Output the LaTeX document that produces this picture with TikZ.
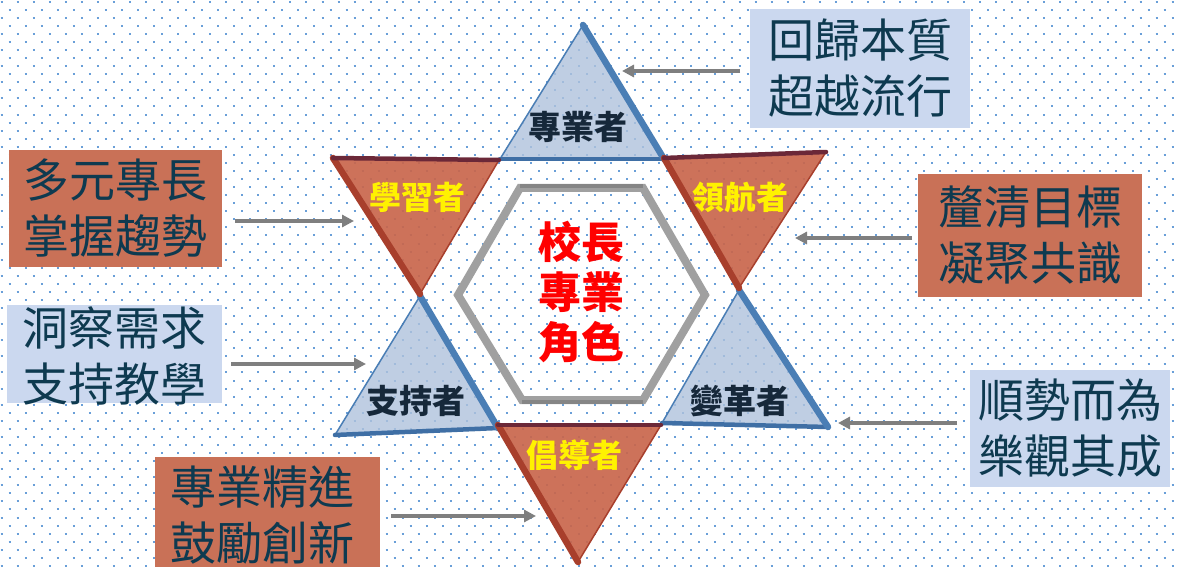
\documentclass[tikz,border=0pt]{standalone}
\usepackage{fontspec}
\newfontfamily\cjk{Noto Sans CJK TC}
\usetikzlibrary{arrows.meta}
\definecolor{dotc}{HTML}{6A9FD8}
\definecolor{boxor}{HTML}{C97157}
\definecolor{boxbl}{HTML}{CBD8EF}
\definecolor{txtc}{HTML}{0E3A50}
\definecolor{trib}{HTML}{AFC2DC}
\definecolor{trie}{HTML}{4A7EB5}
\definecolor{trie2}{HTML}{3F6FA5}
\definecolor{trio}{HTML}{C9664C}
\definecolor{trioe}{HTML}{A83F2C}
\definecolor{triot}{HTML}{6B2838}
\definecolor{hexc}{HTML}{A0A0A0}
\definecolor{hexd}{HTML}{858585}
\definecolor{arrc}{HTML}{7F7F7F}
\definecolor{navy}{HTML}{16283A}
\begin{document}
\begin{tikzpicture}[x=1pt,y=-1pt,
  obox/.style={fill=boxor, inner sep=0pt, text=txtc, align=center, font=\cjk\fontsize{46}{56}\selectfont},
  bbox/.style={fill=boxbl, inner sep=0pt, text=txtc, align=center, font=\cjk\fontsize{46}{56}\selectfont},
  arr/.style={draw=arrc, line width=4pt, -{Triangle[length=12pt,width=12pt]}},
  blab/.style={text=navy, font=\cjk\bfseries\fontsize{33}{33}\selectfont},
  ylab/.style={text=yellow, font=\cjk\bfseries\fontsize{32}{32}\selectfont},
  bfill/.style={fill=trib, fill opacity=0.8},
  ofill/.style={fill=trio, fill opacity=0.92},
  thin/.style={line width=1.5pt},
  thick/.style={line width=6.5pt, line cap=round},
  midw/.style={line width=4.5pt, line cap=round}]
\useasboundingbox (0,0) rectangle (1179,567);
\fill[white] (0,0) rectangle (1179,567);
% dotted background
\foreach \j in {0,...,70} {
  \pgfmathsetmacro\yy{1.7+8.06*\j}
  \pgfmathsetmacro\xx{mod(\j,2)*8.02+0.7}
  \draw[dotc, line width=2pt, dash pattern=on 2pt off 14.04pt] (\xx,\yy) -- (1179,\yy);
}
% triangle vertices
\coordinate (t1a) at (583,25);  \coordinate (t1b) at (500,159); \coordinate (t1c) at (664,159);
\coordinate (t2a) at (333,158); \coordinate (t2b) at (499,160); \coordinate (t2c) at (420,294);
\coordinate (t3a) at (664,158); \coordinate (t3b) at (826,152); \coordinate (t3c) at (739,288);
\coordinate (t4a) at (420,296); \coordinate (t4b) at (335,435); \coordinate (t4c) at (498,428);
\coordinate (t5a) at (739,290); \coordinate (t5b) at (662,423); \coordinate (t5c) at (828,427);
\coordinate (t6a) at (498,425); \coordinate (t6b) at (661,425); \coordinate (t6c) at (578,562);
% blue triangles
\foreach \t in {t1,t4,t5} {
  \fill[bfill] (\t a) -- (\t b) -- (\t c) -- cycle;
  \draw[trie, thin] (\t a) -- (\t b);
  \draw[trie2, midw] (\t b) -- (\t c);
  \draw[trie, thick] (\t a) -- (\t c);
}
% orange triangles
\foreach \t in {t2,t3,t6} {
  \fill[ofill] (\t a) -- (\t b) -- (\t c) -- cycle;
  \draw[trioe, thin] (\t b) -- (\t c);
  \draw[trioe, thick] (\t a) -- (\t c);
  \draw[triot, midw] (\t a) -- (\t b);
}
% hexagon
\coordinate (h1) at (520,188); \coordinate (h2) at (643,188); \coordinate (h3) at (705,295);
\coordinate (h4) at (643,400); \coordinate (h5) at (522,400); \coordinate (h6) at (458,295);
\draw[hexc, line width=8pt, line join=miter] (h1) -- (h2) -- (h3) -- (h4) -- (h5) -- (h6) -- cycle;
\draw[hexd, line width=4pt] ([yshift=2pt]h1) -- ([yshift=2pt]h2);
\draw[hexd, line width=4pt] ([yshift=-2pt]h5) -- ([yshift=-2pt]h4);
% labels
\node[blab] (l1) at (578,127) {專業者};
\node[ylab] (l2) at (417,197) {學習者};
\node[ylab] (l3) at (740,197) {領航者};
\node[blab] (l4) at (416,401) {支持者};
\node[blab] (l5) at (740,401) {變革者};
\node[ylab] (l6) at (574,455) {倡導者};
\node[text=red, align=center, font=\cjk\bfseries\fontsize{43}{50}\selectfont] (ctr) at (581,292) {校長\\專業\\角色};
% boxes
\node[bbox, minimum width=220pt, minimum height=119pt] (b1) at (860,68.5) {回歸本質\\超越流行};
\node[obox, minimum width=213pt, minimum height=117pt] (b2) at (115.5,208.5) {多元專長\\掌握趨勢};
\node[obox, minimum width=224pt, minimum height=123pt] (b3) at (1030,235.5) {釐清目標\\凝聚共識};
\node[bbox, minimum width=215pt, minimum height=98pt, text depth=0pt] (b4) at (114.5,354) {洞察需求\\支持教學};
\node[bbox, minimum width=200pt, minimum height=117pt] (b5) at (1070,428.5) {順勢而為\\樂觀其成};
\node[obox, minimum width=225pt, minimum height=115pt, anchor=north] (b6) at (267.5,457) {\\[-56pt]};
\node[text=txtc, align=center, font=\cjk\fontsize{46}{56}\selectfont] (b6t) at (262,515) {專業精進\\鼓勵創新};
% arrows
\coordinate (s1) at (740,71);  \coordinate (e1) at (622,71);
\coordinate (s2) at (235,221); \coordinate (e2) at (354,221);
\coordinate (s3) at (912,238); \coordinate (e3) at (795,238);
\coordinate (s4) at (231,364); \coordinate (e4) at (366,364);
\coordinate (s5) at (957,423); \coordinate (e5) at (838,423);
\coordinate (s6) at (391,516); \coordinate (e6) at (536,516);
\foreach \i in {1,...,6} { \draw[arr] (s\i) -- (e\i); }
\end{tikzpicture}
\end{document}
